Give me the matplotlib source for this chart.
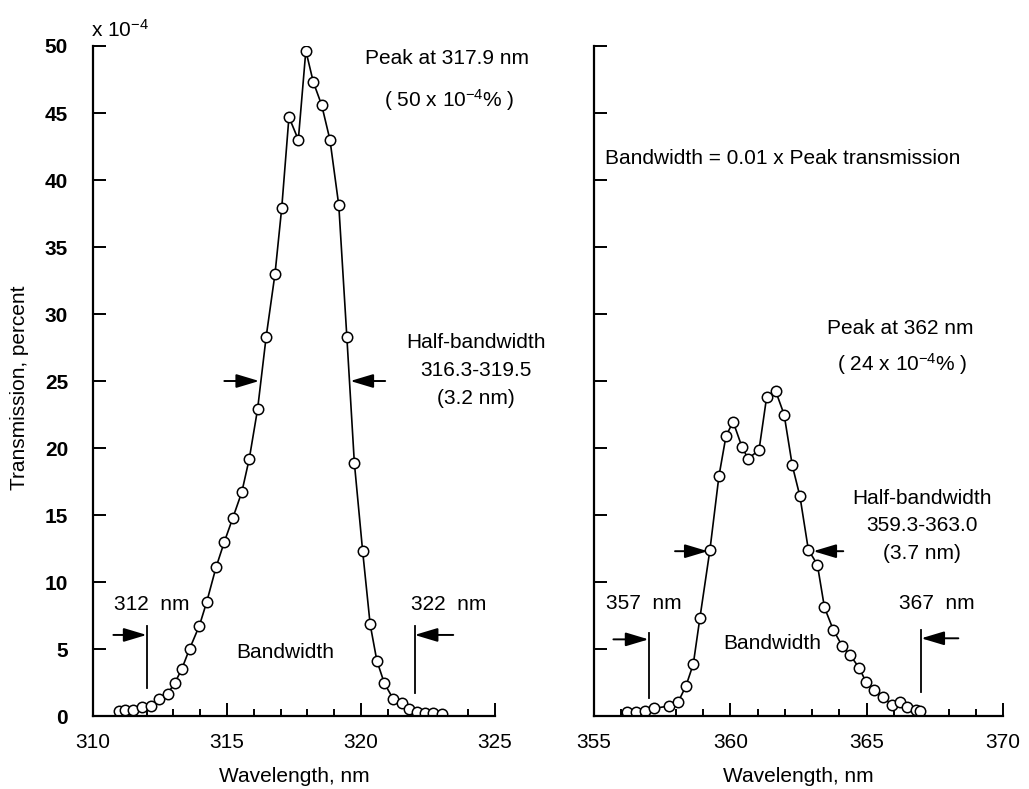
import matplotlib
matplotlib.use('Agg')
import matplotlib.pyplot as plt
from matplotlib.ticker import MultipleLocator

FONT = ['Liberation Sans Narrow', 'Liberation Sans', 'DejaVu Sans']
plt.rcParams['font.family'] = FONT
plt.rcParams['mathtext.fontset'] = 'custom'
plt.rcParams['mathtext.rm'] = 'Liberation Sans'
plt.rcParams['mathtext.it'] = 'Liberation Sans'
plt.rcParams['mathtext.bf'] = 'Liberation Sans:bold'

# ---- data: left filter (peak 317.9 nm) ----
left_wl = [310.98, 311.2, 311.5, 311.82, 312.15, 312.45, 312.78, 313.06, 313.31, 313.6,
           313.97, 314.24, 314.59, 314.9, 315.21, 315.55, 315.83, 316.14, 316.46, 316.79,
           317.04, 317.31, 317.66, 317.94, 318.22, 318.53, 318.84, 319.17, 319.47, 319.75,
           320.06, 320.34, 320.59, 320.87, 321.21, 321.52, 321.8, 322.08, 322.39, 322.7, 323.01]
left_tr = [0.4, 0.45, 0.45, 0.65, 0.77, 1.3, 1.65, 2.5, 3.5, 5.0,
           6.75, 8.5, 11.1, 13.0, 14.75, 16.7, 19.2, 22.9, 28.3, 33.0,
           37.9, 44.7, 43.0, 49.65, 47.3, 45.6, 43.0, 38.1, 28.3, 18.9,
           12.3, 6.84, 4.13, 2.44, 1.24, 0.95, 0.5, 0.27, 0.2, 0.2, 0.15]

# ---- data: right filter (peak 362 nm) ----
right_wl = [356.2, 356.54, 356.87, 357.2, 357.76, 358.09, 358.37, 358.64, 358.88, 359.25,
            359.58, 359.84, 360.1, 360.43, 360.65, 361.05, 361.33, 361.66, 361.97, 362.27,
            362.55, 362.86, 363.19, 363.45, 363.78, 364.11, 364.39, 364.72, 364.97, 365.27,
            365.59, 365.92, 366.22, 366.49, 366.81, 366.96]
right_tr = [0.32, 0.32, 0.37, 0.57, 0.75, 1.07, 2.24, 3.88, 7.29, 12.4,
            17.9, 20.9, 21.96, 20.05, 19.2, 19.85, 23.8, 24.25, 22.5, 18.7,
            16.4, 12.4, 11.3, 8.1, 6.4, 5.2, 4.55, 3.6, 2.56, 1.94,
            1.44, 0.82, 1.07, 0.65, 0.45, 0.4]

left_xlim = (310, 325)
right_xlim = (355, 370)
ylim = (0, 50)
left_xticks = [310, 315, 320, 325]
right_xticks = [355, 360, 365, 370]
yticks = [0, 5, 10, 15, 20, 25, 30, 35, 40, 45, 50]

# annotation values
left_half = (316.2, 319.6, 25.0)       # left tip, right tip, level
right_half = (359.17, 363.04, 12.3)
left_band = (312.0, 322.0)
right_band = (357.0, 367.0)

fig = plt.figure(figsize=(10.29, 7.89), dpi=100)
ax1 = fig.add_axes([0.0904, 0.0925, 0.3907, 0.8492])
ax2 = fig.add_axes([0.5773, 0.0925, 0.3975, 0.8492])

TS = 15
for ax, xl, xt in ((ax1, left_xlim, left_xticks), (ax2, right_xlim, right_xticks)):
    ax.set_xlim(*xl)
    ax.set_ylim(*ylim)
    ax.spines['top'].set_visible(False)
    ax.spines['right'].set_visible(False)
    ax.spines['left'].set_linewidth(1.6)
    ax.spines['bottom'].set_linewidth(1.6)
    ax.set_xticks(xt)
    ax.xaxis.set_minor_locator(MultipleLocator(1))
    ax.set_yticks(yticks)
    ax.tick_params(axis='x', which='major', direction='in', length=9.5, width=1.4,
                   pad=12, labelsize=TS)
    ax.tick_params(axis='x', which='minor', direction='in', length=5, width=1.4)
    ax.tick_params(axis='y', which='major', direction='in', length=9.5, width=1.4,
                   pad=18, labelsize=TS)
    ax.set_xlabel('Wavelength, nm', fontsize=TS, labelpad=11)
    ax.patch.set_alpha(0)

for lab in ax1.get_yticklabels():
    lab.set_fontweight('bold')
ax2.tick_params(axis='y', labelleft=False)

line_kw = dict(color='black', lw=1.2, marker='o', markersize=7.5,
               markerfacecolor='white', markeredgecolor='black', markeredgewidth=1.1)
ax1.plot(left_wl, left_tr, **line_kw)
ax2.plot(right_wl, right_tr, **line_kw)

arrow = dict(arrowstyle='-|>,head_length=1.0,head_width=0.3', color='black',
             lw=1.4, shrinkA=0, shrinkB=0, mutation_scale=14)

# ---- left panel annotations ----
ax1.annotate('', xy=(left_half[0], left_half[2]), xytext=(314.9, left_half[2]), arrowprops=arrow)
ax1.annotate('', xy=(left_half[1], left_half[2]), xytext=(320.9, left_half[2]), arrowprops=arrow)
ax1.plot([left_band[0], left_band[0]], [2.1, 6.7], color='black', lw=1.3)
ax1.plot([left_band[1], left_band[1]], [1.7, 6.7], color='black', lw=1.3)
ax1.annotate('', xy=(left_band[0], 6.05), xytext=(310.76, 6.05), arrowprops=arrow)
ax1.annotate('', xy=(left_band[1], 6.05), xytext=(323.44, 6.05), arrowprops=arrow)
ax1.text(312.19, 8.3, '312  nm', ha='center', va='center', fontsize=TS)
ax1.text(323.28, 8.3, '322  nm', ha='center', va='center', fontsize=TS)
ax1.text(317.16, 4.72, 'Bandwidth', ha='center', va='center', fontsize=TS)
ax1.text(323.2, 49.1, 'Peak at 317.9 nm', ha='center', va='center', fontsize=TS)
ax1.text(323.3, 46.0, '( 50 x 10$^{-4}$% )', ha='center', va='center', fontsize=TS)
ax1.text(324.3, 27.9, 'Half-bandwidth', ha='center', va='center', fontsize=TS)
ax1.text(324.3, 25.8, '316.3-319.5', ha='center', va='center', fontsize=TS)
ax1.text(324.3, 23.7, '(3.2 nm)', ha='center', va='center', fontsize=TS)

# ---- right panel annotations ----
ax2.annotate('', xy=(right_half[0], right_half[2]), xytext=(357.97, right_half[2]), arrowprops=arrow)
ax2.annotate('', xy=(right_half[1], right_half[2]), xytext=(364.14, right_half[2]), arrowprops=arrow)
ax2.plot([right_band[0], right_band[0]], [1.32, 6.17], color='black', lw=1.3)
ax2.plot([right_band[1], right_band[1]], [1.8, 6.4], color='black', lw=1.3)
ax2.annotate('', xy=(right_band[0], 5.72), xytext=(355.71, 5.72), arrowprops=arrow)
ax2.annotate('', xy=(right_band[1], 5.8), xytext=(368.36, 5.8), arrowprops=arrow)
ax2.text(356.81, 8.36, '357  nm', ha='center', va='center', fontsize=TS)
ax2.text(367.57, 8.4, '367  nm', ha='center', va='center', fontsize=TS)
ax2.text(361.52, 5.42, 'Bandwidth', ha='center', va='center', fontsize=TS)
ax2.text(366.22, 28.9, 'Peak at 362 nm', ha='center', va='center', fontsize=TS)
ax2.text(366.3, 26.3, '( 24 x 10$^{-4}$% )', ha='center', va='center', fontsize=TS)
ax2.text(367.03, 16.2, 'Half-bandwidth', ha='center', va='center', fontsize=TS)
ax2.text(367.03, 14.25, '359.3-363.0', ha='center', va='center', fontsize=TS)
ax2.text(367.03, 12.1, '(3.7 nm)', ha='center', va='center', fontsize=TS)
ax2.text(355.4, 41.6, 'Bandwidth = 0.01 x Peak transmission', ha='left', va='center', fontsize=TS)

fig.text(91 / 1029, 1 - 37 / 789, 'x 10$^{-4}$', ha='left', va='baseline', fontsize=TS)
fig.text(20 / 1029, 1 - 388 / 789, 'Transmission, percent', rotation=90,
         ha='center', va='center', fontsize=TS)

fig.savefig('out.png', dpi=100)
